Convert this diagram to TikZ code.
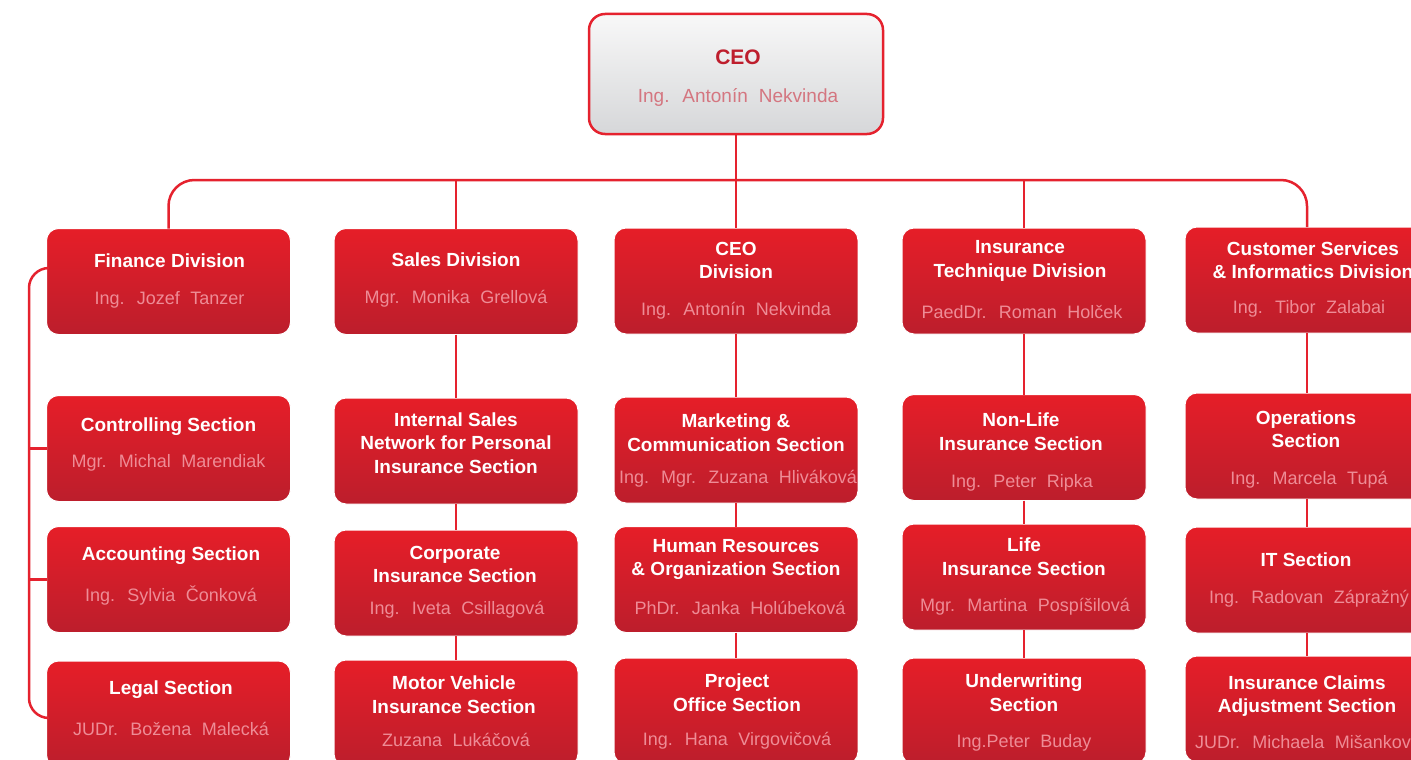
\documentclass[tikz,border=0pt]{standalone}
\usepackage{fontspec}
\setmainfont{Liberation Sans}
\newfontfamily\namefont{Liberation Sans}[WordSpace=2.1]
\definecolor{linered}{RGB}{229,34,46}
\definecolor{boxtop}{RGB}{230,30,40}
\definecolor{boxbot}{RGB}{188,30,44}
\definecolor{namepink}{RGB}{238,140,150}
\definecolor{ceotitle}{RGB}{190,30,45}
\definecolor{ceoname}{RGB}{212,118,128}
\definecolor{ceotop}{RGB}{248,248,248}
\definecolor{ceobot}{RGB}{214,215,217}
\tikzset{
  conn/.style={draw=linered, line width=2.5pt},
  rbox/.style={rectangle, rounded corners=12pt, draw=white, line width=1pt,
    top color=boxtop, bottom color=boxbot, minimum width=244pt,
    minimum height=106pt, inner sep=0pt, outer sep=0pt},
  ceobox/.style={rectangle, rounded corners=16pt, draw=linered, line width=2.5pt,
    top color=ceotop, bottom color=ceobot, minimum width=294pt,
    minimum height=120pt, inner sep=0pt, outer sep=0pt},
  ttl/.style={text=white, font=\fontsize{19}{23.5}\selectfont\bfseries,
    align=center, inner sep=0pt},
  nm/.style={text=namepink, font=\namefont\fontsize{18}{22}\selectfont, inner sep=0pt},
}
\begin{document}
\begin{tikzpicture}[x=1pt,y=-1pt]
\useasboundingbox (0,0) rectangle (1411,760);
\clip (0,0) rectangle (1411,760);
\fill[white] (0,0) rectangle (1411,760);

% top box
\node[ceobox] (ceo) at (736,74) {};
\node[ttl, text=ceotitle, font=\fontsize{21}{24}\selectfont\bfseries] (ceoT) at (738,57) {CEO};
\node[nm, text=ceoname, font=\namefont\fontsize{19}{22}\selectfont] (ceoN) at (738,97) {Ing. Antonín Nekvinda};

% column 1
\node[rbox] (fin) at (168.5,281.5) {};
\node[ttl] (finT) at (169.5,261) {Finance Division};
\node[nm] (finN) at (169.5,300) {Ing. Jozef Tanzer};
\node[rbox] (ctrl) at (168.5,448.5) {};
\node[ttl] (ctrlT) at (168.5,427) {Controlling Section};
\node[nm] (ctrlN) at (168.5,463) {Mgr. Michal Marendiak};
\node[rbox] (acct) at (168.5,579.5) {};
\node[ttl] (acctT) at (171,556) {Accounting Section};
\node[nm] (acctN) at (171,595) {Ing. Sylvia Čonková};
\node[rbox] (legal) at (168.5,714) {};
\node[ttl] (legalT) at (171,690) {Legal Section};
\node[nm] (legalN) at (171,729) {JUDr. Božena Malecká};

% column 2
\node[rbox] (sales) at (456,281.5) {};
\node[ttl] (salesT) at (456,260) {Sales Division};
\node[nm] (salesN) at (456,299) {Mgr. Monika Grellová};
\node[rbox] (isn) at (456,451) {};
\node[ttl] (isnT) at (456,443) {Internal Sales\\Network for Personal\\Insurance Section};
\node[rbox] (corp) at (456,583) {};
\node[ttl] (corpT) at (455,564.5) {Corporate\\Insurance Section};
\node[nm] (corpN) at (457,610) {Ing. Iveta Csillagová};
\node[rbox] (motor) at (456,713) {};
\node[ttl] (motorT) at (454,694.5) {Motor Vehicle\\Insurance Section};
\node[nm] (motorN) at (456,740) {Zuzana Lukáčová};

% column 3
\node[rbox] (ceodiv) at (736,281) {};
\node[ttl] (ceodivT) at (736,260.5) {CEO\\Division};
\node[nm] (ceodivN) at (736,311) {Ing. Antonín Nekvinda};
\node[rbox] (mkt) at (736,450) {};
\node[ttl] (mktT) at (736,432.5) {Marketing \&\\Communication Section};
\node[nm] (mktN) at (738,479) {Ing. Mgr. Zuzana Hliváková};
\node[rbox] (hr) at (736,579.5) {};
\node[ttl] (hrT) at (736,559.5) {Human Resources\\\& Organization Section};
\node[nm] (hrN) at (740,608) {PhDr. Janka Holúbeková};
\node[rbox] (proj) at (736,711) {};
\node[ttl] (projT) at (737,692.5) {Project\\Office Section};
\node[nm] (projN) at (737,741) {Ing. Hana Virgovičová};

% column 4
\node[rbox] (itd) at (1024,281) {};
\node[ttl] (itdT) at (1020,261) {Insurance\\Technique Division};
\node[nm] (itdN) at (1022,312) {PaedDr. Roman Holček};
\node[rbox] (nonlife) at (1024,447.5) {};
\node[ttl] (nonlifeT) at (1021,431.5) {Non-Life\\Insurance Section};
\node[nm] (nonlifeN) at (1022,483) {Ing. Peter Ripka};
\node[rbox] (life) at (1024,577) {};
\node[ttl] (lifeT) at (1024,556.5) {Life\\Insurance Section};
\node[nm] (lifeN) at (1025,607) {Mgr. Martina Pospíšilová};
\node[rbox] (uw) at (1024,711) {};
\node[ttl] (uwT) at (1024,692.5) {Underwriting\\Section};
\node[nm] (uwN) at (1024,743) {Ing.Peter Buday};

% column 5
\node[rbox] (cust) at (1307,280) {};
\node[ttl] (custT) at (1313,260) {Customer Services\\\& Informatics Division};
\node[nm] (custN) at (1309,309) {Ing. Tibor Zalabai};
\node[rbox] (ops) at (1307,446) {};
\node[ttl] (opsT) at (1306,429) {Operations\\Section};
\node[nm] (opsN) at (1309,480) {Ing. Marcela Tupá};
\node[rbox] (it) at (1307,580) {};
\node[ttl] (itT) at (1306,560) {IT Section};
\node[nm] (itN) at (1309,599) {Ing. Radovan Zápražný};
\node[rbox] (claims) at (1307,709) {};
\node[ttl] (claimsT) at (1307,696) {Insurance Claims\\Adjustment Section};
\node[nm] (claimsN) at (1308,742) {JUDr. Michaela Mišankova};

% bus from the top box to the divisions
\coordinate (bus) at (736,180);
\draw[conn] (ceo.south) -- (ceodiv.north);
\draw[conn, rounded corners=26pt] (fin.north) |- (bus) -| (cust.north);
\draw[conn] (sales.north) -- (sales.north |- bus);
\draw[conn] (itd.north) -- (itd.north |- bus);

% vertical chains inside the columns
\draw[conn] (sales.south) -- (isn.north);
\draw[conn] (isn.south) -- (corp.north);
\draw[conn] (corp.south) -- (motor.north);
\draw[conn] (ceodiv.south) -- (mkt.north);
\draw[conn] (mkt.south) -- (hr.north);
\draw[conn] (hr.south) -- (proj.north);
\draw[conn] (itd.south) -- (nonlife.north);
\draw[conn] (nonlife.south) -- (life.north);
\draw[conn] (life.south) -- (uw.north);
\draw[conn] (cust.south) -- (ops.north);
\draw[conn] (ops.south) -- (it.north);
\draw[conn] (it.south) -- (claims.north);

% side bracket of the finance division
\coordinate (spine) at (29,0);
\coordinate (brTop) at (47,268);
\coordinate (brBot) at (47,718);
\draw[conn, rounded corners=20pt] (brTop) -| (spine |- brBot) -- (brBot);
\draw[conn] (ctrl.west) -- (spine |- ctrl.west);
\draw[conn] (acct.west) -- (spine |- acct.west);
\end{tikzpicture}
\end{document}
